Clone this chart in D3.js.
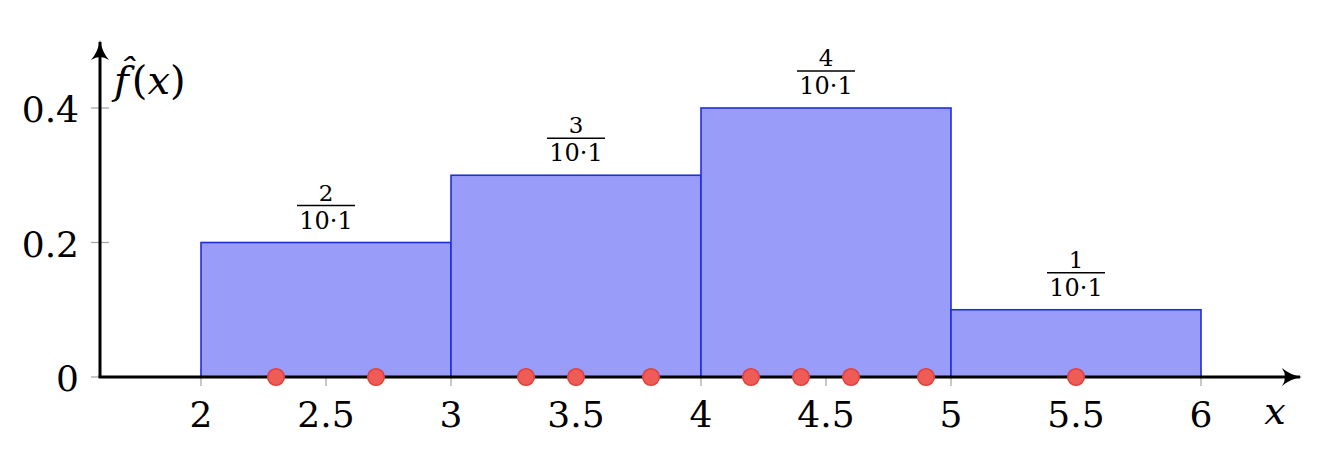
<!DOCTYPE html>
<html><head><meta charset="utf-8">
<script src="https://cdn.jsdelivr.net/npm/d3@7"></script>
<style>body{margin:0;background:#fff}svg{display:block}svg text{font-family:"DejaVu Serif";}</style>
</head><body><svg id="c" width="1342" height="454"></svg>
<script>
const binStarts = [2, 3, 4, 5];
const binEnds = [3, 4, 5, 6];
const binCounts = [2, 3, 4, 1];
const densities = [0.2, 0.3, 0.4, 0.1];
const samples = [2.3, 2.7, 3.3, 3.5, 3.8, 4.2, 4.4, 4.6, 4.9, 5.5];
const xTicks = [2, 2.5, 3, 3.5, 4, 4.5, 5, 5.5, 6];
const xTickLabels = ["2", "2.5", "3", "3.5", "4", "4.5", "5", "5.5", "6"];
const yTicks = [0, 0.2, 0.4];
const yTickLabels = ["0", "0.2", "0.4"];
const nTotal = 10, binWidth = 1;

const svg = d3.select("#c");
const x = d3.scaleLinear().domain([2, 6]).range([201, 1201]);
const y = d3.scaleLinear().domain([0, 0.4]).range([377, 108]);
const x0 = x.invert(100), x1 = x.invert(1300), yTop = y.invert(42);

svg.append("defs").append("marker").attr("id","arr").attr("viewBox","0 0 10 10")
  .attr("refX",9).attr("refY",5).attr("markerWidth",20).attr("markerHeight",20).attr("markerUnits","userSpaceOnUse")
  .attr("orient","auto").append("path").attr("d","M0,0.5 Q4,4 10,5 Q4,6 0,9.5 Q3,5 0,0.5").attr("fill","#000");

const g = svg.append("g");
g.selectAll(".xt").data(xTicks).join("line").attr("x1",d=>x(d)).attr("x2",d=>x(d))
  .attr("y1",y(0)-8).attr("y2",y(0)+9).attr("stroke","#aaa").attr("stroke-width",1.3);
g.selectAll(".yt").data(yTicks).join("line").attr("x1",x(x0)-9).attr("x2",x(x0)+9)
  .attr("y1",d=>y(d)).attr("y2",d=>y(d)).attr("stroke","#aaa").attr("stroke-width",1.3);

svg.append("g").selectAll("rect").data(densities).join("rect")
  .attr("x",(d,i)=>x(binStarts[i])).attr("width",(d,i)=>x(binEnds[i])-x(binStarts[i]))
  .attr("y",d=>y(d)).attr("height",d=>y(0)-y(d))
  .attr("fill","#999cf8").attr("stroke","#1f2fd6").attr("stroke-width",1.6);

svg.append("line").attr("x1",x(x0)-1.5).attr("x2",x(x1)).attr("y1",y(0)).attr("y2",y(0))
  .attr("stroke","#000").attr("stroke-width",3).attr("marker-end","url(#arr)");
svg.append("line").attr("x1",x(x0)).attr("x2",x(x0)).attr("y1",y(0)).attr("y2",y(yTop))
  .attr("stroke","#000").attr("stroke-width",3).attr("marker-end","url(#arr)");

svg.append("g").selectAll("circle").data(samples).join("circle")
  .attr("cx",d=>x(d)).attr("cy",y(0)).attr("r",8.3)
  .attr("fill","#ef5b57").attr("stroke","#e0403a").attr("stroke-width",1.5);

svg.append("g").selectAll("text").data(xTicks).join("text")
  .attr("x",d=>x(d)).attr("y",y(0)+50).attr("text-anchor","middle").attr("font-size",36)
  .text((d,i)=>xTickLabels[i]);
svg.append("g").selectAll("text").data(yTicks).join("text")
  .attr("x",x(x0)-21).attr("y",d=>y(d)+14).attr("text-anchor","end").attr("font-size",36)
  .text((d,i)=>yTickLabels[i]);

const fr = svg.append("g").selectAll("g").data(densities).join("g")
  .attr("transform",(d,i)=>`translate(${x((binStarts[i]+binEnds[i])/2)},${y(d)})`);
fr.append("text").attr("y",-42).attr("text-anchor","middle").attr("font-size",23).text((d,i)=>binCounts[i]);
fr.append("line").attr("x1",-29).attr("x2",29).attr("y1",-37).attr("y2",-37).attr("stroke","#000").attr("stroke-width",1.3);
fr.append("text").attr("y",-14).attr("text-anchor","middle").attr("font-size",24).text(`${nTotal}·${binWidth}`);

const yl = svg.append("text").attr("x",114).attr("y",94).attr("font-size",40);
yl.append("tspan").attr("font-style","italic").text("f\u0302");
yl.append("tspan").attr("dx",3).text("(");
yl.append("tspan").attr("font-style","italic").text("x");
yl.append("tspan").text(")");
svg.append("text").attr("x",1275).attr("y",424).attr("text-anchor","middle").attr("font-size",38).attr("font-style","italic").text("x");
</script></body></html>
